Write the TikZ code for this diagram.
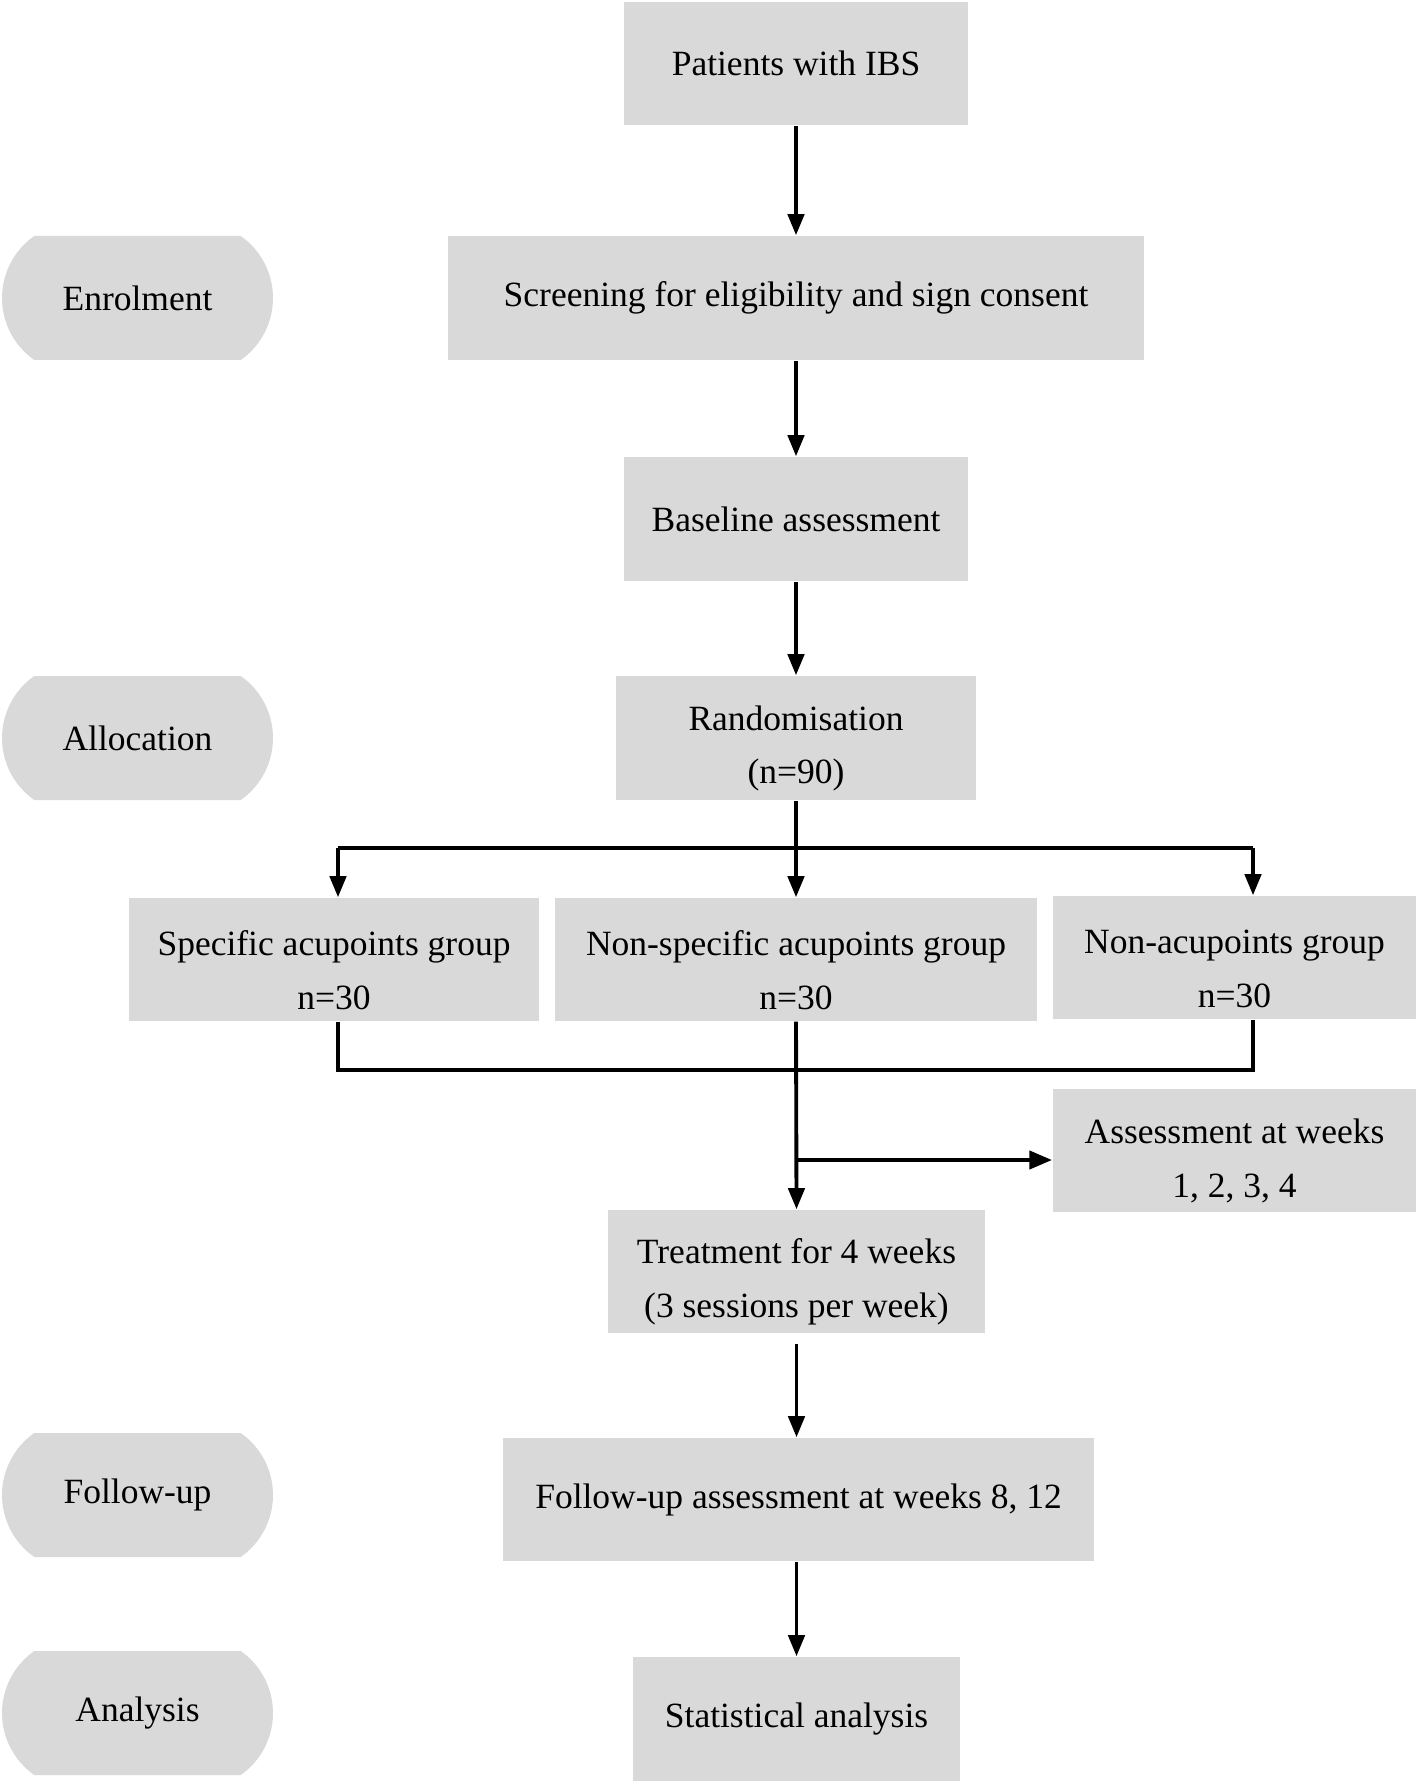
\documentclass[tikz,border=0pt]{standalone}
\usepackage{fontspec}
\setmainfont{Liberation Serif}
\usetikzlibrary{arrows.meta,shapes.misc}
\definecolor{boxgray}{HTML}{D9D9D9}
\newcommand{\boxstrut}{\rule{0pt}{13pt}}
\tikzset{box/.style={rectangle, fill=boxgray, align=center, inner sep=0pt, minimum height=1.23cm, font=\fontsize{10.1}{15.3}\selectfont},
         phase/.style={rounded rectangle, rounded rectangle arc length=110, fill=boxgray, inner sep=0pt, minimum width=2.71cm, minimum height=1.24cm, font=\fontsize{10.1}{15.3}\selectfont},
         arr/.style={-{Triangle[length=6pt,width=4.6pt]}, line width=1.1pt},
         line/.style={line width=1.1pt}}

\begin{document}
\begin{tikzpicture}
  \useasboundingbox (0,0) rectangle (14.18,-17.85);
  % phases on the left
  \node[phase] (enrol) at (1.375,-2.98)  {Enrolment};
  \node[phase] (alloc) at (1.375,-7.38)  {Allocation};
  \node[phase] (follow) at (1.375,-14.95) {Follow-up};
  \node[phase] (anal) at (1.375,-17.13)  {Analysis};
  % main column
  \node[box, minimum width=3.44cm] (pat)  at (7.96,-0.635)  {Patients with IBS};
  \node[box, minimum width=6.96cm, minimum height=1.24cm] (scr)  at (7.96,-2.98) {Screening for eligibility and sign consent};
  \node[box, minimum width=3.44cm, minimum height=1.24cm] (base) at (7.96,-5.19) {Baseline assessment};
  \node[box, minimum width=3.60cm, minimum height=1.24cm] (rand) at (7.96,-7.38) {\boxstrut Randomisation\\(n=90)};
  \node[box, minimum width=4.10cm] (spec)  at (3.34,-9.595)   {\boxstrut Specific acupoints group\\n=30};
  \node[box, minimum width=4.82cm] (nspec) at (7.96,-9.595)   {\boxstrut Non-specific acupoints group\\n=30};
  \node[box, minimum width=3.63cm] (nacu)  at (12.345,-9.575) {\boxstrut Non-acupoints group\\n=30};
  \node[box, minimum width=3.63cm] (assess) at (12.345,-11.505) {\boxstrut Assessment at weeks\\1, 2, 3, 4};
  \node[box, minimum width=3.77cm] (treat) at (7.965,-12.715) {\boxstrut Treatment for 4 weeks\\(3 sessions per week)};
  \node[box, minimum width=5.91cm] (fup)   at (7.985,-14.995) {Follow-up assessment at weeks 8, 12};
  \node[box, minimum width=3.27cm, minimum height=1.24cm] (stat) at (7.965,-17.19) {Statistical analysis};
  % branch and merge points
  \coordinate (bl) at (3.38,-8.48);
  \coordinate (br) at (12.53,-8.48);
  \coordinate (ml) at (3.38,-10.70);
  \coordinate (mr) at (12.53,-10.70);
  \coordinate (ma) at (7.96,-11.60);

  \draw[arr] (pat) -- (scr);
  \draw[arr] (scr) -- (base);
  \draw[arr] (base) -- (rand);
  \draw[line] (rand.south) -- (rand.south |- bl);
  \draw[line] (bl) -- (br);
  \draw[arr] (bl) -- (bl |- spec.north);
  \draw[arr] (rand.south |- bl) -- (nspec.north);
  \draw[arr] (br) -- (br |- nacu.north);
  \draw[line] (bl |- spec.south) -- (ml) -- (mr) -- (br |- nacu.south);
  \draw[arr] (nspec.south) -- (treat.north);
  \draw[-{Triangle[length=6.5pt,width=5pt]}, line width=1.4pt] (ma) -- (ma -| assess.west);
  \draw[arr] ([yshift=-0.1cm]treat.south) -- (treat.south |- fup.north);
  \draw[arr] (treat.south |- fup.south) -- (treat.south |- stat.north);
\end{tikzpicture}
\end{document}
